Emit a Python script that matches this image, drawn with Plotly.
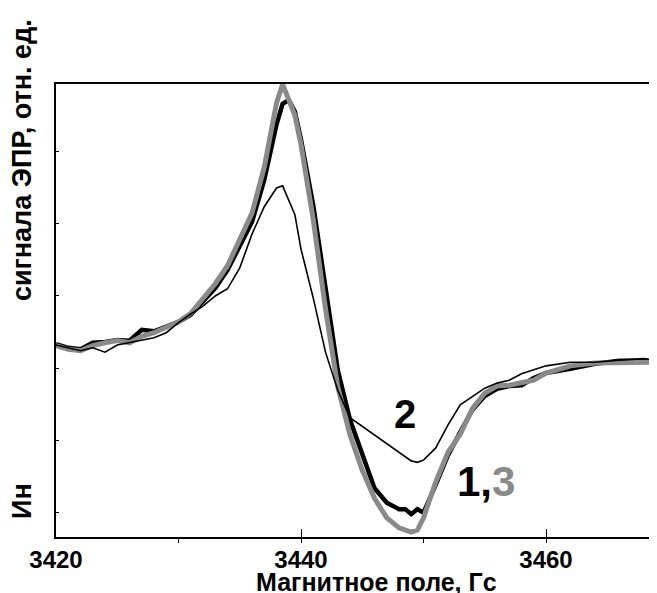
import plotly.graph_objects as go

field = [3420, 3421, 3422, 3423, 3424, 3425, 3426, 3427, 3428, 3429,
         3430, 3431, 3432, 3433, 3434, 3435, 3436, 3437, 3438, 3438.5,
         3439, 3439.5, 3440, 3441, 3442, 3443, 3444, 3445, 3446, 3447,
         3448, 3448.5, 3449, 3449.5, 3450, 3451, 3452, 3453, 3454, 3455,
         3456, 3457, 3458, 3459, 3460, 3462, 3464, 3466, 3468, 3469]

signal_1 = [2.33, 2.28, 2.26, 2.35, 2.36, 2.39, 2.38, 2.53, 2.51, 2.57,
            2.64, 2.74, 2.92, 3.11, 3.36, 3.69, 4.03, 4.61, 5.38, 5.67,
            5.72, 5.56, 5.17, 4.26, 3.08, 1.97, 1.28, 0.79, 0.33, 0.13,
            0.04, 0.04, -0.03, 0.04, -0.01, 0.38, 0.79, 1.11, 1.42, 1.61,
            1.71, 1.75, 1.76, 1.86, 1.93, 1.99, 2.06, 2.10, 2.10, 2.08]

signal_2 = [2.32, 2.28, 2.24, 2.28, 2.22, 2.32, 2.35, 2.39, 2.42, 2.49,
            2.63, 2.75, 2.86, 3.00, 3.10, 3.39, 3.86, 4.24, 4.50, 4.53,
            4.33, 4.13, 3.65, 2.97, 2.22, 1.69, 1.31, 1.19, 1.07, 0.94,
            0.83, 0.76, 0.71, 0.69, 0.72, 0.89, 1.21, 1.49, 1.61, 1.72,
            1.79, 1.83, 1.92, 1.97, 2.03, 2.08, 2.08, 2.11, 2.13, 2.11]

signal_3 = [2.31, 2.26, 2.24, 2.31, 2.35, 2.38, 2.35, 2.44, 2.49, 2.56,
            2.64, 2.76, 2.97, 3.17, 3.42, 3.78, 4.15, 4.79, 5.68, 5.94,
            5.71, 5.51, 5.10, 4.06, 2.82, 1.74, 1.07, 0.58, 0.19, -0.08,
            -0.22, -0.25, -0.28, -0.25, -0.08, 0.42, 0.83, 1.08, 1.44, 1.65,
            1.75, 1.76, 1.79, 1.83, 1.93, 2.03, 2.07, 2.07, 2.08, 2.08]

x_ticks = [3420, 3440, 3460]
y_ticks = [0, 1, 2, 3, 4, 5]

GRAY = "#8a8a8a"
FONT = "Liberation Sans, Arial, sans-serif"

fig = go.Figure()
fig.add_trace(go.Scatter(x=field, y=signal_1, mode="lines",
                         line=dict(color="black", width=4.5), name="1"))
fig.add_trace(go.Scatter(x=field, y=signal_3, mode="lines",
                         line=dict(color=GRAY, width=5), name="3"))
fig.add_trace(go.Scatter(x=field, y=signal_2, mode="lines",
                         line=dict(color="black", width=1.6), name="2"))

# page body has an 8px default margin, so the figure is 8px smaller
fig.update_layout(
    width=649, height=585,
    margin=dict(l=48, r=0, t=76, b=56),
    paper_bgcolor="white", plot_bgcolor="white",
    showlegend=False,
    font=dict(family=FONT, color="black"),
    xaxis=dict(range=[3420, 3469.06], tickvals=x_ticks,
               ticktext=[str(v) for v in x_ticks],
               ticks="inside", ticklen=8, tickwidth=1, tickcolor="black",
               minor=dict(ticks="outside", ticklen=4, dtick=10, tick0=3420,
                          tickcolor="black", tickwidth=1),
               showline=True, linecolor="black", linewidth=2, mirror=True,
               showgrid=False, zeroline=False,
               tickfont=dict(size=24, family=FONT, color="black",
                             weight="bold")),
    yaxis=dict(range=[-0.347, 5.944], tickvals=y_ticks, showticklabels=False,
               ticks="inside", ticklen=3, tickwidth=1, tickcolor="black",
               showline=True, linecolor="black", linewidth=2, mirror=False,
               showgrid=False, zeroline=False),
)

fig.add_annotation(x=3448.5, y=1.36, xref="x", yref="y", text="<b>2</b>",
                   showarrow=False, font=dict(size=40, color="black"))
fig.add_annotation(x=3455.1, y=0.43, xref="x", yref="y",
                   text="<b>1,<span style='color:%s'>3</span></b>" % GRAY,
                   showarrow=False, font=dict(size=42, color="black"))

fig.add_annotation(x=0.534, y=-0.099, xref="paper", yref="paper",
                   text="<b>Магнитное поле, Гс</b>", showarrow=False,
                   xanchor="center", yanchor="middle",
                   font=dict(size=25, color="black"))

fig.add_annotation(x=-0.0566, y=0.832, xref="paper", yref="paper",
                   text="<b>сигнала ЭПР, отн. ед.</b>", showarrow=False,
                   textangle=-90, xanchor="center", yanchor="middle",
                   font=dict(size=27, color="black"))
fig.add_annotation(x=-0.0566, y=0.0795, xref="paper", yref="paper",
                   text="<b>Ин</b>", showarrow=False,
                   textangle=-90, xanchor="center", yanchor="middle",
                   font=dict(size=27, color="black"))

fig.write_html("out.html")
